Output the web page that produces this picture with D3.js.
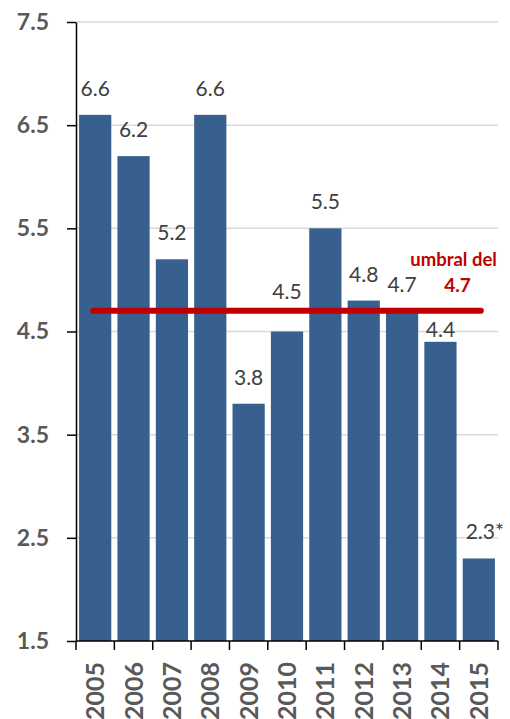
<!DOCTYPE html>
<html>
<head>
<meta charset="utf-8">
<script src="https://cdn.jsdelivr.net/npm/d3@7/dist/d3.min.js"></script>
<style>
  html, body { margin: 0; padding: 0; background: #fff; }
  svg { display: block; font-family: Lato, "Open Sans", sans-serif; }
</style>
</head>
<body>
<svg id="chart" width="510" height="719"></svg>
<script>
// Yearly values and their printed labels
const years = ["2005","2006","2007","2008","2009","2010","2011","2012","2013","2014","2015"];
const values = [6.6, 6.2, 5.2, 6.6, 3.8, 4.5, 5.5, 4.8, 4.7, 4.4, 2.3];
const valueLabels = ["6.6","6.2","5.2","6.6","3.8","4.5","5.5","4.8","4.7","4.4","2.3*"];
const yTicks = [1.5, 2.5, 3.5, 4.5, 5.5, 6.5, 7.5];
const threshold = 4.7;
const thresholdLabel = ["umbral del", "4.7"];

const svg = d3.select("#chart");
const margin = { left: 76, right: 12, top: 22, bottom: 78 };
const W = 510, H = 719;

const x = d3.scaleBand()
  .domain(years)
  .range([margin.left, W - margin.right])
  .paddingInner(0.16)
  .paddingOuter(0.08);

const y = d3.scaleLinear()
  .domain([1.5, 7.5])
  .range([H - margin.bottom, margin.top]);

// horizontal gridlines
svg.append("g")
  .selectAll("line")
  .data(yTicks.slice(1))
  .join("line")
  .attr("x1", margin.left)
  .attr("x2", W - margin.right)
  .attr("y1", d => y(d))
  .attr("y2", d => y(d))
  .attr("stroke", "#d9d9d9")
  .attr("stroke-width", 1.5);

// bars
svg.append("g")
  .selectAll("rect")
  .data(values)
  .join("rect")
  .attr("x", (d, i) => x(years[i]))
  .attr("width", x.bandwidth())
  .attr("y", d => y(d))
  .attr("height", d => y(1.5) - y(d))
  .attr("fill", "#38608f");

// value labels above bars; two labels are moved clear of the threshold line
const labelGap = { "2010": 33, "2014": 5 };
svg.append("g")
  .selectAll("text")
  .data(values)
  .join("text")
  .attr("x", (d, i) => x(years[i]) + x.bandwidth() / 2 + (valueLabels[i].endsWith("*") ? 6 : 0))
  .attr("y", (d, i) => y(d) - (labelGap[years[i]] ?? 19))
  .attr("text-anchor", "middle")
  .attr("font-size", 21)
  .attr("fill", "#404040")
  .text((d, i) => valueLabels[i]);

// threshold line
const first = years[0], last = years[years.length - 1];
svg.append("line")
  .attr("x1", x(first) + x.bandwidth() / 2 - 2)
  .attr("x2", x(last) + x.bandwidth() / 2 + 2)
  .attr("y1", y(threshold))
  .attr("y2", y(threshold))
  .attr("stroke", "#c00000")
  .attr("stroke-width", 6)
  .attr("stroke-linecap", "round");

const annX = x("2014") + x.bandwidth();
svg.append("text")
  .attr("x", annX - 3)
  .attr("y", y(threshold) - 45)
  .attr("text-anchor", "middle")
  .attr("font-size", 18.5)
  .attr("font-weight", "bold")
  .attr("fill", "#c00000")
  .text(thresholdLabel[0]);
svg.append("text")
  .attr("x", annX + 1)
  .attr("y", y(threshold) - 19)
  .attr("text-anchor", "middle")
  .attr("font-size", 19)
  .attr("font-weight", "bold")
  .attr("fill", "#c00000")
  .text(thresholdLabel[1]);

// y axis
const yAxis = svg.append("g")
  .attr("transform", `translate(${margin.left},0)`)
  .call(d3.axisLeft(y).tickValues(yTicks).tickFormat(d3.format(".1f")).tickSize(9).tickPadding(18).tickSizeOuter(0));
yAxis.select(".domain").attr("stroke", "#000").attr("stroke-width", 1.5);
yAxis.selectAll(".tick line").attr("stroke", "#000").attr("stroke-width", 1.5);
yAxis.selectAll(".tick text")
  .attr("font-family", "Lato, 'Open Sans', sans-serif")
  .attr("font-size", 23)
  .attr("font-weight", "bold")
  .attr("fill", "#595959");

// x axis: baseline with ticks at category boundaries
const base = y(1.5);
const gx = svg.append("g");
gx.append("line")
  .attr("x1", margin.left).attr("x2", W - margin.right)
  .attr("y1", base).attr("y2", base)
  .attr("stroke", "#000").attr("stroke-width", 1.5);
const edge = x.step() * x.paddingOuter();
const bounds = years.map(d => x(d) - edge).concat([W - margin.right]);
gx.selectAll("line.b")
  .data(bounds)
  .join("line")
  .attr("class", "b")
  .attr("x1", d => d).attr("x2", d => d)
  .attr("y1", base).attr("y2", base + 9)
  .attr("stroke", "#000").attr("stroke-width", 1.5);
gx.selectAll("text")
  .data(years)
  .join("text")
  .attr("transform", d => `translate(${x(d) + x.bandwidth() / 2 + 9},${base + 21}) rotate(-90)`)
  .attr("text-anchor", "end")
  .attr("font-size", 25)
  .attr("font-weight", "bold")
  .attr("fill", "#595959")
  .text(d => d);
</script>
</body>
</html>
